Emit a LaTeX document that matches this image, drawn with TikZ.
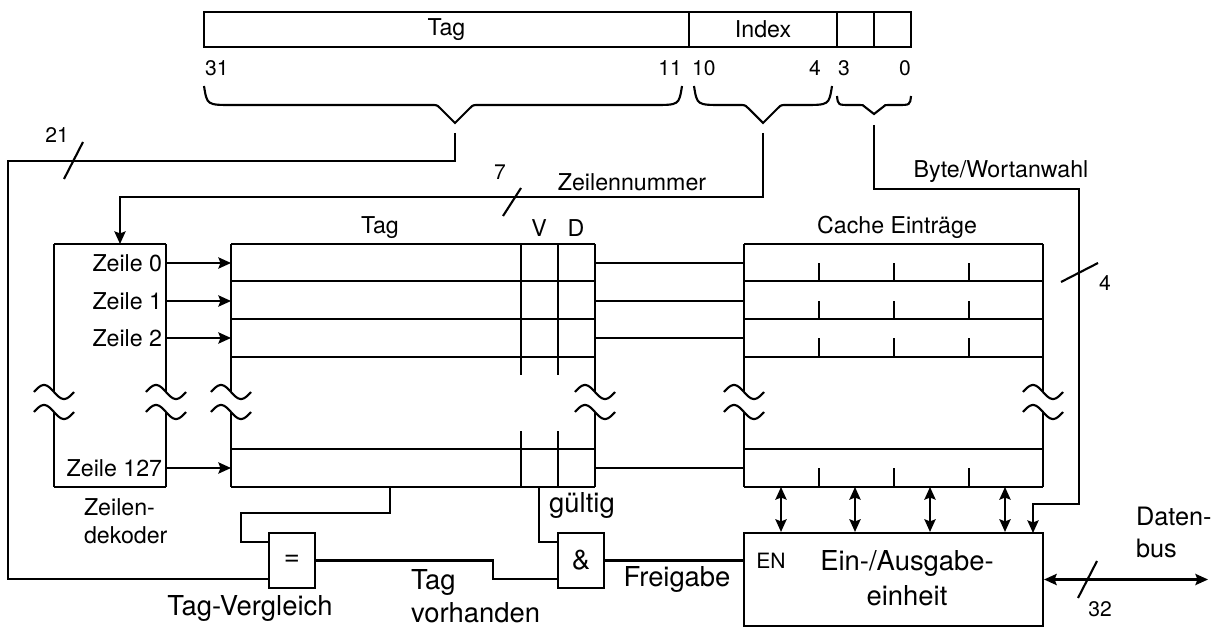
\documentclass[tikz,border=0pt]{standalone}
\usepackage{fontspec}
\setmainfont{TeX Gyre Heros}
\usetikzlibrary{arrows.meta, positioning, calc}
\newcommand{\pxu}{0.025cm}

\begin{document}
\begin{tikzpicture}[x=0.025cm, y=-0.025cm, line width=1.5pt,
    >={Stealth[length=9pt,width=8pt,inset=1.5pt]},
    lbl/.style={font=\fontsize{16.5}{20}\selectfont},
    num/.style={font=\fontsize{15}{18}\selectfont, inner sep=0pt},
    big/.style={font=\fontsize{19.5}{23.5}\selectfont},
    field/.style={draw, lbl, minimum height=35*\pxu, inner sep=0pt},
    gate/.style={draw, big, minimum width=46*\pxu, minimum height=55*\pxu, inner sep=0pt}]
  \useasboundingbox (0,0) rectangle (1224,630);

  % Adresse
  \node[field, minimum width=485*\pxu] (ftag) at (446.5,29.5) {Tag};
  \node[field, minimum width=148*\pxu] (fidx) at (763,29.5) {Index};
  \node[field, minimum width=37*\pxu] (fby1) at (855.5,29.5) {};
  \node[field, minimum width=37*\pxu] (fby2) at (892.5,29.5) {};

  \node[num, anchor=west] (b31) at (204,68) {31};
  \node[num, anchor=east] (b11) at (683,68) {11};
  \node[num, anchor=west] (b10) at (691,68) {10};
  \node[num, anchor=east] (b4) at (822,68) {4};
  \node[num, anchor=west] (b3) at (837,68) {3};
  \node[num, anchor=east] (b0) at (912,68) {0};

  \draw (204,86) .. controls (207,105) .. (232,105) -- (431,105) .. controls (437,105) .. (440,108)
    -- (455,123) -- (470,108) .. controls (473,105) .. (479,105) -- (654,105) .. controls (679,105) .. (682,86);
  \draw (694,86) .. controls (697,105) .. (722,105) -- (739,105) .. controls (745,105) .. (748,108)
    -- (763,123) -- (778,108) .. controls (781,105) .. (787,105) -- (804,105) .. controls (829,105) .. (832,86);
  \draw (837,96) .. controls (838,105) .. (850,105) -- (860,105) .. controls (863,105) .. (865,107)
    -- (874,114) -- (883,107) .. controls (885,105) .. (888,105) -- (898,105) .. controls (910,105) .. (911,96);

  \coordinate (btag) at (455,133);
  \coordinate (bidx) at (763,133);
  \coordinate (bbyte) at (874,125);

  % Tabellen
  \coordinate (dectop) at (120,244);
  \coordinate (tagl) at (231,244);
  \coordinate (tagr) at (595,244);
  \coordinate (cachel) at (744,244);

  \draw (54,244) -- (166,244) (54,487) -- (166,487);
  \foreach \y in {244,281,319,357,449,487}
    \draw (231,\y) -- (595,\y) (744,\y) -- (1043,\y);
  \foreach \bx in {54,166,231,595,744,1043}{
    \draw (\bx,244) -- (\bx,392) (\bx,412) -- (\bx,487);
    \foreach \by in {392,412}
      \draw plot[variable=\t, domain=-20:20, samples=31, smooth] ({\bx+\t},{\by+7*sin(9*\t)});
  }
  \foreach \x in {521,558}
    \draw (\x,244) -- (\x,375) (\x,431) -- (\x,487);
  \foreach \x in {819,894,969}
    \foreach \a/\b in {263/281,301/319,338/357,468/487}
      \draw (\x,\a) -- (\x,\b);

  \node[lbl] (htag) at (380,228) {Tag};
  \node[lbl] (hv) at (539,228) {V};
  \node[lbl] (hd) at (576,228) {D};
  \node[lbl] (hcache) at (897,227) {Cache Einträge};

  \foreach \i/\y in {0/263,1/301,2/338,127/468}{
    \node[lbl, anchor=east, inner sep=2pt] (z\i) at (166,\y) {Zeile \i};
    \draw[->] (z\i.east) -- (z\i.east -| tagl);
    \draw (z\i.east -| tagr) -- (z\i.east -| cachel);
  }
  \node[lbl, anchor=west, align=left, inner sep=0pt] (dec) at (83,521) {Zeilen-\\dekoder};

  % Leitungen von der Adresse
  \draw[->] (bidx) |- (120,197) -- (dectop);
  \draw (503,216) -- (521,188);
  \node[num] (n7) at (500,172) {7};
  \node[lbl] (zn) at (632,182) {Zeilennummer};

  \node[lbl] (bw) at (1001,172) {Byte/Wortanwahl};
  \coordinate (iobyte) at (1033,533);
  \draw[->] (bbyte) |- (1079,189) |- (1033,504) -- (iobyte);
  \draw (1061,282) -- (1098,263);
  \node[num] (n4) at (1105,283) {4};

  % Vergleich
  \node[gate] (eq) at (292,560.5) {=};
  \node[gate] (and) at (581,560.5) {\&};
  \node[draw, minimum width=299*\pxu, minimum height=93*\pxu] (io) at (893.5,579.5) {};
  \node[font=\fontsize{19.5}{25}\selectfont, align=center] (iotxt) at (907,578) {Ein-/Ausgabe-\\einheit};
  \node[font=\fontsize{15}{18}\selectfont] (en) at (771,561) {EN};

  \coordinate (eqa) at (269,542);
  \coordinate (eqb) at (269,579);
  \coordinate (anda) at (558,542);
  \coordinate (andb) at (558,579);
  \coordinate (tagout) at (390,487);
  \coordinate (vout) at (539,487);
  \coordinate (busend) at (1208,579.5);

  \draw (btag) |- (8,161) |- (eqb);
  \draw (64,179) -- (83,142);
  \node[num] (n21) at (57,135) {21};
  \draw (tagout) |- (241,513) |- (eqa);
  \draw (vout) |- (anda);
  \draw (eq.east) -| (493,579) -- (andb);
  \draw (and.east) -- (and.east -| io.west);

  \node[big] (tv) at (250,608) {Tag-Vergleich};
  \node[big, anchor=west, align=left, inner sep=0pt] (tvh) at (410,596) {Tag\\vorhanden};
  \node[big] (gu) at (582,505) {gültig};
  \node[big] (fg) at (677,579) {Freigabe};

  \foreach \x [count=\k] in {781,855,930,1005}{
    \coordinate (cb\k) at (\x,487);
    \draw[<->] (cb\k) -- (cb\k |- io.north);
  }

  % Datenbus
  \draw[<->] (io.east) -- (busend);
  \draw (1078,598) -- (1097,561);
  \node[num] (n32) at (1100,609) {32};
  \node[font=\fontsize{18}{22.8}\selectfont, anchor=west, align=left, inner sep=0pt] (db) at (1135,532) {Daten-\\bus};
\end{tikzpicture}
\end{document}
